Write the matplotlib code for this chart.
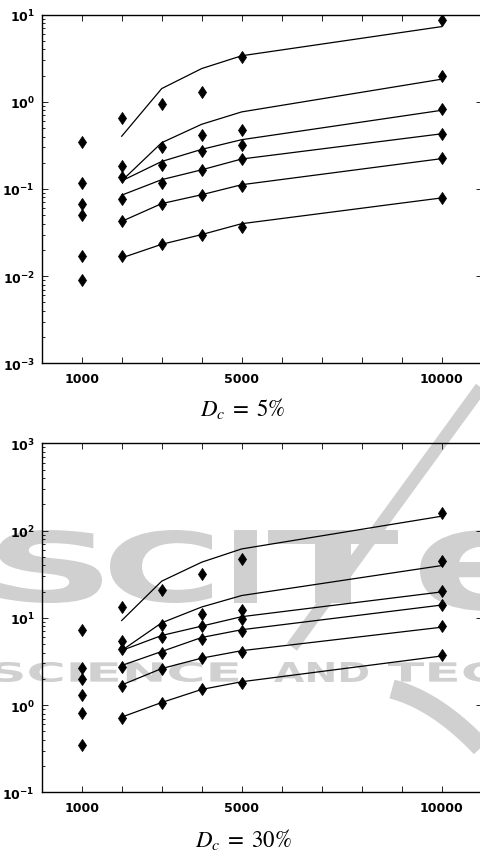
import numpy as np
import matplotlib
matplotlib.use('Agg')
import matplotlib.pyplot as plt
from matplotlib.ticker import FixedLocator, LogLocator, NullFormatter
from matplotlib.textpath import TextPath
from matplotlib.font_manager import FontProperties
from matplotlib.patches import PathPatch
from matplotlib.transforms import Affine2D

sizes = [1000, 2000, 3000, 4000, 5000, 10000]
fit_sizes = [2000, 3000, 4000, 5000, 10000]

# D_c = 5%  (measured points, one row per series)
pts_5 = [
  [0.343, 0.66, 0.938, 1.30, 3.23, 8.8],
  [0.116, 0.184, 0.301, 0.414, 0.472, 2.0],
  [0.068, 0.137, 0.19, 0.276, 0.317, 0.82],
  [0.0497, 0.0774, 0.118, 0.164, 0.223, 0.43],
  [0.017, 0.0434, 0.0673, 0.0845, 0.108, 0.224],
  [0.0091, 0.0172, 0.0232, 0.030, 0.0363, 0.079],
]
# D_c = 5%  (model curves)
fit_5 = [
  [0.403, 1.42, 2.41, 3.38, 7.3],
  [0.124, 0.34, 0.553, 0.767, 1.82],
  [0.124, 0.207, 0.285, 0.368, 0.80],
  [0.085, 0.128, 0.166, 0.221, 0.43],
  [0.0425, 0.068, 0.086, 0.112, 0.223],
  [0.0162, 0.0232, 0.030, 0.040, 0.079],
]

# D_c = 30%
pts_30 = [
  [7.16, 13.3, 21.1, 31.9, 47.3, 158],
  [2.65, 5.49, 8.32, 11.1, 12.4, 44.2],
  [1.99, 4.34, 6.10, 7.95, 9.74, 20.5],
  [1.31, 2.70, 3.94, 5.79, 7.15, 14.1],
  [0.82, 1.65, 2.56, 3.45, 4.04, 7.95],
  [0.35, 0.717, 1.06, 1.51, 1.80, 3.70],
]
fit_30 = [
  [9.31, 26.3, 43.4, 61.6, 146],
  [4.22, 8.76, 13.3, 18.0, 39.7],
  [4.22, 6.27, 8.03, 10.3, 19.8],
  [2.84, 4.11, 5.95, 7.3, 14.0],
  [1.70, 2.62, 3.45, 4.2, 7.8],
  [0.728, 1.07, 1.51, 1.85, 3.65],
]

xtick_labels = ['1000', '', '', '', '5000', '', '', '', '', '10000']

W, H = 480, 854
fig = plt.figure(figsize=(W/100, H/100), dpi=100)
fig.patch.set_facecolor('white')

# --- faint publisher watermark behind the plots ---
wm = '#d0d0d0'
def wm_text(s, x0, x1, ytop, ybot, weight='bold'):
  tp = TextPath((0, 0), s, size=100, prop=FontProperties(family='DejaVu Sans', weight=weight))
  bb = tp.get_extents()
  tr = Affine2D().translate(-bb.x0, -bb.y0).scale((x1-x0)/bb.width/W, (ybot-ytop)/bb.height/H)
  tr = tr.translate(x0/W, 1 - ybot/H)
  fig.add_artist(PathPatch(tr.transform_path(tp), fc=wm, ec='none',
                           transform=fig.transFigure, zorder=-5))

wm_text('S', -2, 102, 531, 604)
wm_text('C', 110, 212, 531, 604)
wm_text('I', 234, 257, 531, 604)
wm_text('T', 268, 398, 531, 604)
wm_text('e', 420, 548, 531, 612)
wm_text('SCIENCE', -8, 238, 663, 683)
wm_text('AND', 274, 368, 663, 683)
wm_text('TECH', 388, 540, 663, 683)
fig.add_artist(plt.Line2D([485/W, 292/W], [1-383/H, 1-648/H], color=wm, lw=9,
                          solid_capstyle='butt', transform=fig.transFigure, zorder=-5))
t = np.linspace(0, 1, 30)
fig.add_artist(plt.Line2D((392 + 95*t)/W, 1 - (690 + 25*t + 40*t**2)/H, color=wm, lw=14,
                          solid_capstyle='butt', transform=fig.transFigure, zorder=-5))


def panel(rect, pts, fits, ylim, caption, cap_y):
  ax = fig.add_axes(rect)
  ax.set_facecolor('none')
  for row in fits:
    ax.plot(fit_sizes, row, color='k', lw=0.9)
  for row in pts:
    ax.plot(sizes, row, ls='none', marker='d', ms=6.2, mfc='k', mec='k', mew=0.6)
  ax.set_yscale('log')
  ax.set_xlim(0, 11000)
  ax.set_ylim(*ylim)
  ax.xaxis.set_major_locator(FixedLocator(range(1000, 11000, 1000)))
  ax.set_xticklabels(xtick_labels, fontsize=9, fontweight='bold', family='DejaVu Sans')
  decs = np.arange(int(np.log10(ylim[0])), int(np.log10(ylim[1])) + 1)
  ax.yaxis.set_major_locator(FixedLocator(10.0**decs))
  ax.set_yticklabels([r'$\mathbf{10^{%d}}$' % d for d in decs], fontsize=9)
  ax.yaxis.set_minor_locator(LogLocator(base=10, subs=np.arange(2, 10), numticks=20))
  ax.yaxis.set_minor_formatter(NullFormatter())
  ax.tick_params(which='both', direction='in', top=True, right=True, width=0.6)
  ax.tick_params(which='major', length=4)
  ax.tick_params(which='minor', length=2, right=False)
  ax.tick_params(axis='x', pad=6)
  ax.tick_params(axis='y', pad=5)
  for s in ax.spines.values():
    s.set_linewidth(1.0)
  fig.text(243/W, 1 - cap_y/H, caption, math_fontfamily='stix', fontsize=16.5,
           ha='center', va='baseline')
  return ax

panel([41.7/W, 1 - 364.3/H, 440/W, 348.6/H], pts_5, fit_5, (1e-3, 1e1), r'$D_c\;=\;5\%$', 416)
panel([41.7/W, 1 - 793.3/H, 440/W, 349/H], pts_30, fit_30, (1e-1, 1e3), r'$D_c\;=\;30\%$', 847)

plt.savefig('out.png', dpi=100)
